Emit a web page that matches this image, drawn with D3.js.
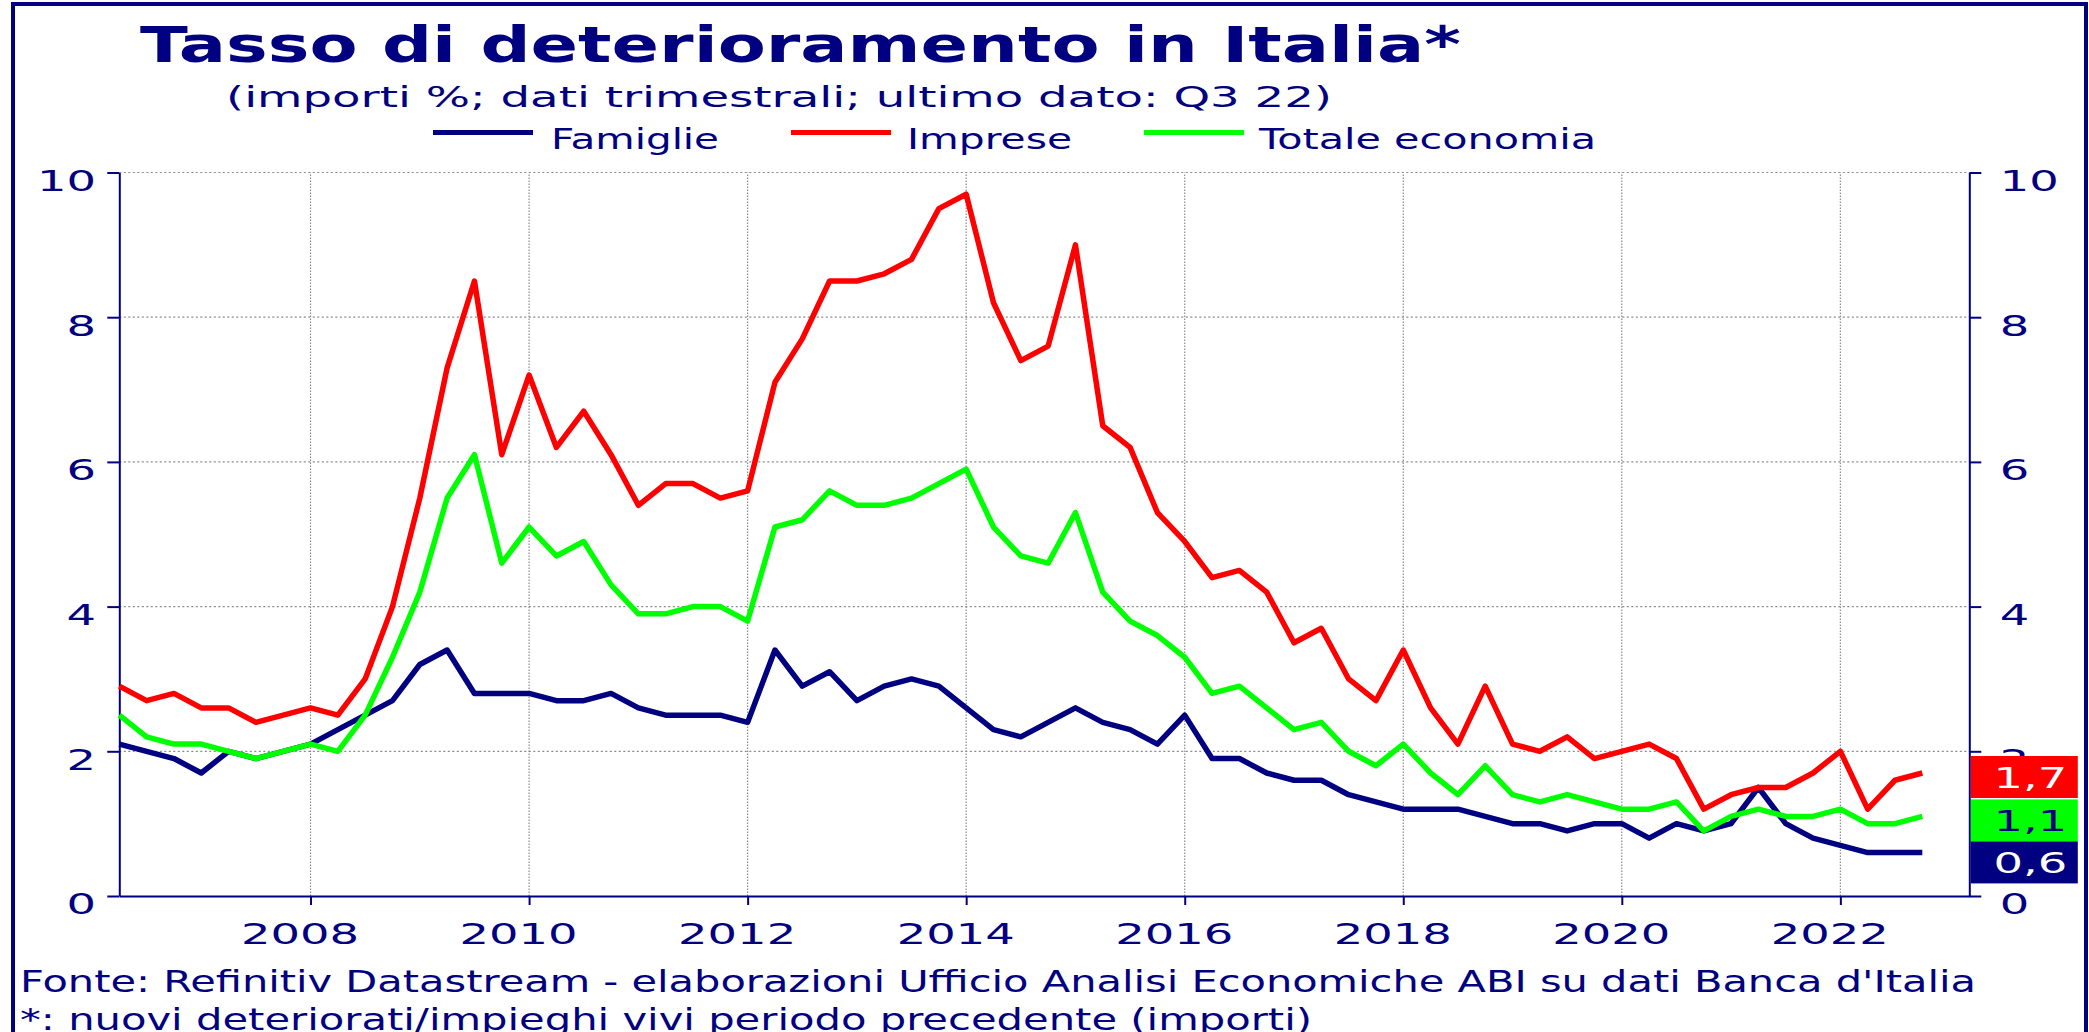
<!DOCTYPE html>
<html><head><meta charset="utf-8">
<script src="https://cdn.jsdelivr.net/npm/d3@7"></script>
<style>
body{margin:0;background:#fff}
text{font-family:"DejaVu Sans",Verdana,sans-serif;fill:#000080}
</style>
</head><body>
<svg id="c" width="2089" height="1032"></svg>
<script>
// ---------- DATA ----------
const quarters = [
"2006Q1","2006Q2","2006Q3","2006Q4","2007Q1","2007Q2","2007Q3","2007Q4",
"2008Q1","2008Q2","2008Q3","2008Q4","2009Q1","2009Q2","2009Q3","2009Q4",
"2010Q1","2010Q2","2010Q3","2010Q4","2011Q1","2011Q2","2011Q3","2011Q4",
"2012Q1","2012Q2","2012Q3","2012Q4","2013Q1","2013Q2","2013Q3","2013Q4",
"2014Q1","2014Q2","2014Q3","2014Q4","2015Q1","2015Q2","2015Q3","2015Q4",
"2016Q1","2016Q2","2016Q3","2016Q4","2017Q1","2017Q2","2017Q3","2017Q4",
"2018Q1","2018Q2","2018Q3","2018Q4","2019Q1","2019Q2","2019Q3","2019Q4",
"2020Q1","2020Q2","2020Q3","2020Q4","2021Q1","2021Q2","2021Q3","2021Q4",
"2022Q1","2022Q2","2022Q3"];
const famiglie = [
2.1,2.0,1.9,1.7,2.0,1.9,2.0,2.1,2.3,2.5,
2.7,3.2,3.4,2.8,2.8,2.8,2.7,2.7,2.8,2.6,
2.5,2.5,2.5,2.4,3.4,2.9,3.1,2.7,2.9,3.0,
2.9,2.6,2.3,2.2,2.4,2.6,2.4,2.3,2.1,2.5,
1.9,1.9,1.7,1.6,1.6,1.4,1.3,1.2,1.2,1.2,
1.1,1.0,1.0,0.9,1.0,1.0,0.8,1.0,0.9,1.0,
1.5,1.0,0.8,0.7,0.6,0.6,0.6];
const imprese = [
2.9,2.7,2.8,2.6,2.6,2.4,2.5,2.6,2.5,3.0,
4.0,5.5,7.3,8.5,6.1,7.2,6.2,6.7,6.1,5.4,
5.7,5.7,5.5,5.6,7.1,7.7,8.5,8.5,8.6,8.8,
9.5,9.7,8.2,7.4,7.6,9.0,6.5,6.2,5.3,4.9,
4.4,4.5,4.2,3.5,3.7,3.0,2.7,3.4,2.6,2.1,
2.9,2.1,2.0,2.2,1.9,2.0,2.1,1.9,1.2,1.4,
1.5,1.5,1.7,2.0,1.2,1.6,1.7];
const totale = [
2.5,2.2,2.1,2.1,2.0,1.9,2.0,2.1,2.0,2.5,
3.3,4.2,5.5,6.1,4.6,5.1,4.7,4.9,4.3,3.9,
3.9,4.0,4.0,3.8,5.1,5.2,5.6,5.4,5.4,5.5,
5.7,5.9,5.1,4.7,4.6,5.3,4.2,3.8,3.6,3.3,
2.8,2.9,2.6,2.3,2.4,2.0,1.8,2.1,1.7,1.4,
1.8,1.4,1.3,1.4,1.3,1.2,1.2,1.3,0.9,1.1,
1.2,1.1,1.1,1.2,1.0,1.0,1.1];
const seriesNames = ["Famiglie","Imprese","Totale economia"];
const seriesColors = ["#000080","#ff0000","#00ff00"];
const labelTextColors = ["#ffffff","#ffffff","#000080"];
const yearTicks = [2008,2010,2012,2014,2016,2018,2020,2022];
const yTicks = [0,2,4,6,8,10];
const titleText = "Tasso di deterioramento in Italia*";
const subtitleText = "(importi %; dati trimestrali; ultimo dato: Q3 22)";
const footer1 = "Fonte: Refinitiv Datastream - elaborazioni Ufficio Analisi Economiche ABI su dati Banca d'Italia";
const footer2 = "*: nuovi deteriorati/impieghi vivi periodo precedente (importi)";

// ---------- LAYOUT ----------
const NAVY = "#000080";
const SX = 1.6; // horizontal stretch of digit labels
const svg = d3.select("#c");
svg.append("rect").attr("width",2089).attr("height",1032).attr("fill","#fff");
svg.append("rect").attr("x",13).attr("y",4).attr("width",2073).attr("height",1060)
  .attr("fill","none").attr("stroke",NAVY).attr("stroke-width",4);

const qdec = quarters.map(q => +q.slice(0,4) + (+q.slice(5))*0.25);
const x = d3.scaleLinear().domain([2006.25, 2023.18]).range([119.3, 1969.3]);
const y = d3.scaleLinear().domain([0,10]).range([896, 172.5]);
const [X0,X1] = x.range();

// grid
const grid = svg.append("g").attr("stroke","#8c8c8c").attr("stroke-width",1.2);
grid.selectAll("line.h").data(yTicks.filter(d=>d>0)).join("line")
  .attr("x1",X0).attr("x2",X1).attr("y1",d=>y(d)).attr("y2",d=>y(d))
  .attr("stroke-dasharray","2,2.5");
grid.selectAll("line.v").data(yearTicks).join("line")
  .attr("x1",d=>x(d)).attr("x2",d=>x(d)).attr("y1",y(0)).attr("y2",y(10))
  .attr("stroke-dasharray","1.5,1.5");

// minor tick values
const yMinor = d3.range(0,10.001,0.4);
const xMinor = d3.range(2006.25,2023.01,0.25);

function styleAxis(g){
  g.selectAll("path.domain").attr("stroke",NAVY).attr("stroke-width",2);
  g.selectAll(".tick line").attr("stroke",NAVY).attr("stroke-width",2);
}

// left axis
const gl = svg.append("g").attr("transform",`translate(${X0},0)`);
gl.call(d3.axisLeft(y).tickValues(yMinor).tickSize(6).tickSizeOuter(0).tickFormat(""));
gl.call(d3.axisLeft(y).tickValues(yTicks).tickSize(12).tickSizeOuter(0));
styleAxis(gl);
gl.selectAll("text").attr("font-size",29).attr("fill",NAVY).attr("font-family","DejaVu Sans")
  .attr("text-anchor","end").attr("x",-14.6).attr("y",7.5).attr("dy","0.36em")
  .attr("transform",`scale(${SX},1)`);

// right axis
const gr = svg.append("g").attr("transform",`translate(${X1},0)`);
gr.call(d3.axisRight(y).tickValues(yMinor).tickSize(6).tickSizeOuter(0).tickFormat(""));
gr.call(d3.axisRight(y).tickValues(yTicks).tickSize(12).tickSizeOuter(0));
styleAxis(gr);
gr.selectAll("text").attr("font-size",29).attr("fill",NAVY).attr("font-family","DejaVu Sans")
  .attr("text-anchor","start").attr("x",19).attr("y",7.5).attr("dy","0.36em")
  .attr("transform",`scale(${SX},1)`);

// bottom axis
const gb = svg.append("g").attr("transform",`translate(0,${y(0)})`);
gb.call(d3.axisBottom(x).tickValues(xMinor).tickSize(5).tickSizeOuter(0).tickFormat(""));
gb.call(d3.axisBottom(x).tickValues(yearTicks).tickSize(9).tickSizeOuter(0).tickFormat(d3.format("d")));
styleAxis(gb);
gb.selectAll("text").attr("font-size",29).attr("fill",NAVY).attr("font-family","DejaVu Sans")
  .attr("text-anchor","middle").attr("x",-11/SX).attr("y",48).attr("dy",0)
  .attr("transform",`scale(${SX},1)`);

// lines
const series = [famiglie, imprese, totale];
const line = d3.line().x((d,i)=>x(qdec[i])).y(d=>y(d));
svg.append("g").selectAll("path").data(series).join("path")
  .attr("d",line).attr("fill","none")
  .attr("stroke",(d,i)=>seriesColors[i]).attr("stroke-width",5.5)
  .attr("stroke-linejoin","round");

// last value boxes
const fmt = d3.formatLocale({decimal:",",thousands:".",grouping:[3],currency:["","€"]}).format(".1f");
const boxH = 42, boxW = 107;
const items = series.map((s,i)=>({i, v:s[s.length-1]})).sort((a,b)=>b.v-a.v);
let prevBottom = -Infinity;
items.forEach(it=>{
  let top = y(it.v) + 4 - boxH/2;
  if (top < prevBottom) top = prevBottom;
  it.top = top; prevBottom = top + boxH;
});
const bx = X1 + 1.5;
const bg = svg.append("g");
bg.selectAll("rect").data(items).join("rect")
  .attr("x",bx).attr("y",d=>d.top).attr("width",boxW).attr("height",boxH)
  .attr("fill",d=>seriesColors[d.i]);
bg.selectAll("text").data(items).join("text")
  .attr("transform",d=>`translate(${bx+boxW/2+6},${d.top+boxH/2+10.5}) scale(${SX},1)`)
  .attr("text-anchor","middle").attr("font-size",29)
  .style("fill",d=>labelTextColors[d.i]).text(d=>fmt(d.v));

// title / subtitle
svg.append("text").attr("x",140).attr("y",62).attr("font-size",50).attr("font-weight","bold")
  .attr("textLength",1321).attr("lengthAdjust","spacingAndGlyphs").text(titleText);
svg.append("text").attr("x",226).attr("y",106.5).attr("font-size",28.5)
  .attr("textLength",1106).attr("lengthAdjust","spacingAndGlyphs").text(subtitleText);

// legend
const legendLayout = [{lx:433,tx:551,tw:168},{lx:791,tx:907,tw:165},{lx:1144,tx:1259,tw:337}];
const lg = svg.append("g");
seriesNames.forEach((n,i)=>{
  const L = legendLayout[i];
  lg.append("line").attr("x1",L.lx).attr("x2",L.lx+100).attr("y1",132.5).attr("y2",132.5)
    .attr("stroke",seriesColors[i]).attr("stroke-width",5);
  lg.append("text").attr("x",L.tx).attr("y",149).attr("font-size",29)
    .attr("textLength",L.tw).attr("lengthAdjust","spacingAndGlyphs").text(n);
});

// footer
svg.append("text").attr("x",20).attr("y",992).attr("font-size",29.5)
  .attr("textLength",1956).attr("lengthAdjust","spacingAndGlyphs").text(footer1);
svg.append("text").attr("x",20).attr("y",1030).attr("font-size",29.5)
  .attr("textLength",1292).attr("lengthAdjust","spacingAndGlyphs").text(footer2);
</script>
</body></html>
